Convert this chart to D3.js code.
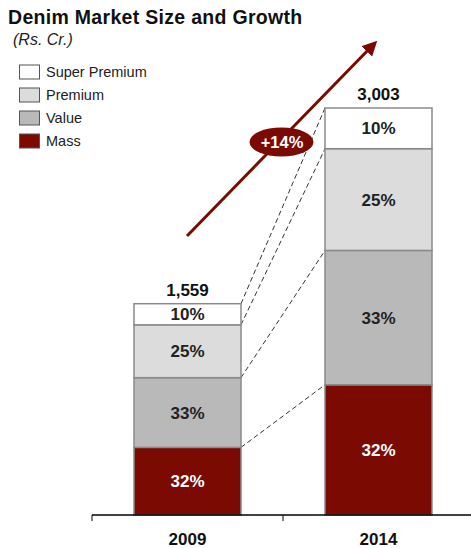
<!DOCTYPE html>
<html>
<head>
<meta charset="utf-8">
<script src="https://cdn.jsdelivr.net/npm/d3@7"></script>
<style>
  html, body { margin: 0; padding: 0; background: #fff; }
  svg { display: block; font-family: "Liberation Sans", Arial, sans-serif; }
</style>
</head>
<body>
<svg id="chart" width="471" height="548"></svg>
<script>
// Market size by year (Rs. Cr.) and segment shares (%)
const years = ["2009", "2014"];
const totals = [1559, 3003];
const totalLabels = ["1,559", "3,003"];
const segments = ["Mass", "Value", "Premium", "Super Premium"];
const share2009 = [32, 33, 25, 10];
const share2014 = [32, 33, 25, 10];
const shares = [share2009, share2014];
const segmentColors = ["#7b0a02", "#b9b9b9", "#dcdcdc", "#ffffff"];
const cagrLabel = "+14%";

const svg = d3.select("#chart");
const dark = "#7b0a02";

// scales
const x = d3.scaleBand().domain(years).range([92, 474]).paddingInner(0).paddingOuter(0);
const barW = 107;
const y = d3.scaleLinear().domain([0, 3003]).range([515, 108]);

// stacked rows: one record per year
const rows = years.map((yr, i) => {
  const r = { year: yr, total: totals[i] };
  segments.forEach((s, j) => { r[s] = totals[i] * shares[i][j] / 100; });
  return r;
});
const stacked = d3.stack().keys(segments)(rows);

const barX = yr => x(yr) + (x.bandwidth() - barW) / 2;

// dashed connectors between matching segment edges
const connectors = svg.append("g");
segments.forEach((s, j) => {
  const layer = stacked[j];
  connectors.append("line")
    .attr("x1", barX(years[0]) + barW).attr("y1", y(layer[0][1]))
    .attr("x2", barX(years[1])).attr("y2", y(layer[1][1]))
    .attr("stroke", "#333").attr("stroke-width", 1)
    .attr("stroke-dasharray", "5,3");
});

// bars
const layers = svg.append("g").selectAll("g").data(stacked).join("g")
  .attr("fill", (d, j) => segmentColors[j]);
layers.selectAll("rect").data(d => d).join("rect")
  .attr("x", d => barX(d.data.year))
  .attr("y", d => y(d[1]))
  .attr("width", barW)
  .attr("height", d => y(d[0]) - y(d[1]))
  .attr("stroke", "#8a8a8a").attr("stroke-width", 1.5);

// segment share labels
stacked.forEach((layer, j) => {
  layer.forEach((d, i) => {
    svg.append("text")
      .attr("x", barX(d.data.year) + barW / 2)
      .attr("y", (y(d[0]) + y(d[1])) / 2)
      .attr("dy", "0.36em")
      .attr("text-anchor", "middle")
      .attr("font-size", 17).attr("font-weight", "bold")
      .attr("fill", j === 0 ? "#fff" : "#222")
      .text(shares[i][j] + "%");
  });
});

// totals above bars
rows.forEach((r, i) => {
  svg.append("text")
    .attr("x", barX(r.year) + barW / 2)
    .attr("y", y(r.total) - 8)
    .attr("text-anchor", "middle")
    .attr("font-size", 17).attr("font-weight", "bold")
    .attr("fill", "#111")
    .text(totalLabels[i]);
});

// x axis
const axisG = svg.append("g").attr("transform", `translate(0,${y(0)})`);
axisG.append("line").attr("x1", 92).attr("x2", 471).attr("stroke", "#000").attr("stroke-width", 1.5);
[92, x(years[1])].forEach(t => {
  axisG.append("line").attr("x1", t).attr("x2", t).attr("y1", 0).attr("y2", 6)
    .attr("stroke", "#000").attr("stroke-width", 1);
});
years.forEach(yr => {
  axisG.append("text")
    .attr("x", barX(yr) + barW / 2).attr("y", 30)
    .attr("text-anchor", "middle")
    .attr("font-size", 17).attr("font-weight", "bold").attr("fill", "#111")
    .text(yr);
});

// growth arrow
svg.append("defs").append("marker")
  .attr("id", "arrowhead").attr("viewBox", "0 0 10 10")
  .attr("refX", 5).attr("refY", 5)
  .attr("markerWidth", 5).attr("markerHeight", 5)
  .attr("orient", "auto")
  .append("path").attr("d", "M0,0 L10,5 L0,10 z").attr("fill", dark);

svg.append("line")
  .attr("x1", 187).attr("y1", 236).attr("x2", 372).attr("y2", 46)
  .attr("stroke", dark).attr("stroke-width", 3)
  .attr("marker-end", "url(#arrowhead)");

svg.append("ellipse")
  .attr("cx", 281.5).attr("cy", 142).attr("rx", 32).attr("ry", 14.5)
  .attr("fill", dark);
svg.append("text")
  .attr("x", 282).attr("y", 142).attr("dy", "0.36em")
  .attr("text-anchor", "middle")
  .attr("font-size", 16.5).attr("font-weight", "bold").attr("fill", "#fff")
  .text(cagrLabel);

// title
svg.append("text").attr("x", 8).attr("y", 24)
  .attr("font-size", 19.5).attr("font-weight", "bold").attr("fill", "#111")
  .attr("letter-spacing", 0.3)
  .text("Denim Market Size and Growth");
svg.append("text").attr("x", 13).attr("y", 45)
  .attr("font-size", 16).attr("font-style", "italic").attr("fill", "#222")
  .text("(Rs. Cr.)");

// legend (top-down: Super Premium first)
const legendOrder = [3, 2, 1, 0];
const legend = svg.append("g");
legendOrder.forEach((j, k) => {
  const cy = 72 + k * 23;
  legend.append("rect")
    .attr("x", 19.5).attr("y", cy - 7).attr("width", 20).attr("height", 14)
    .attr("fill", segmentColors[j]).attr("stroke", "#555").attr("stroke-width", 1);
  legend.append("text")
    .attr("x", 46).attr("y", cy).attr("dy", "0.36em")
    .attr("font-size", 14.5).attr("fill", "#222")
    .text(segments[j]);
});
</script>
</body>
</html>
